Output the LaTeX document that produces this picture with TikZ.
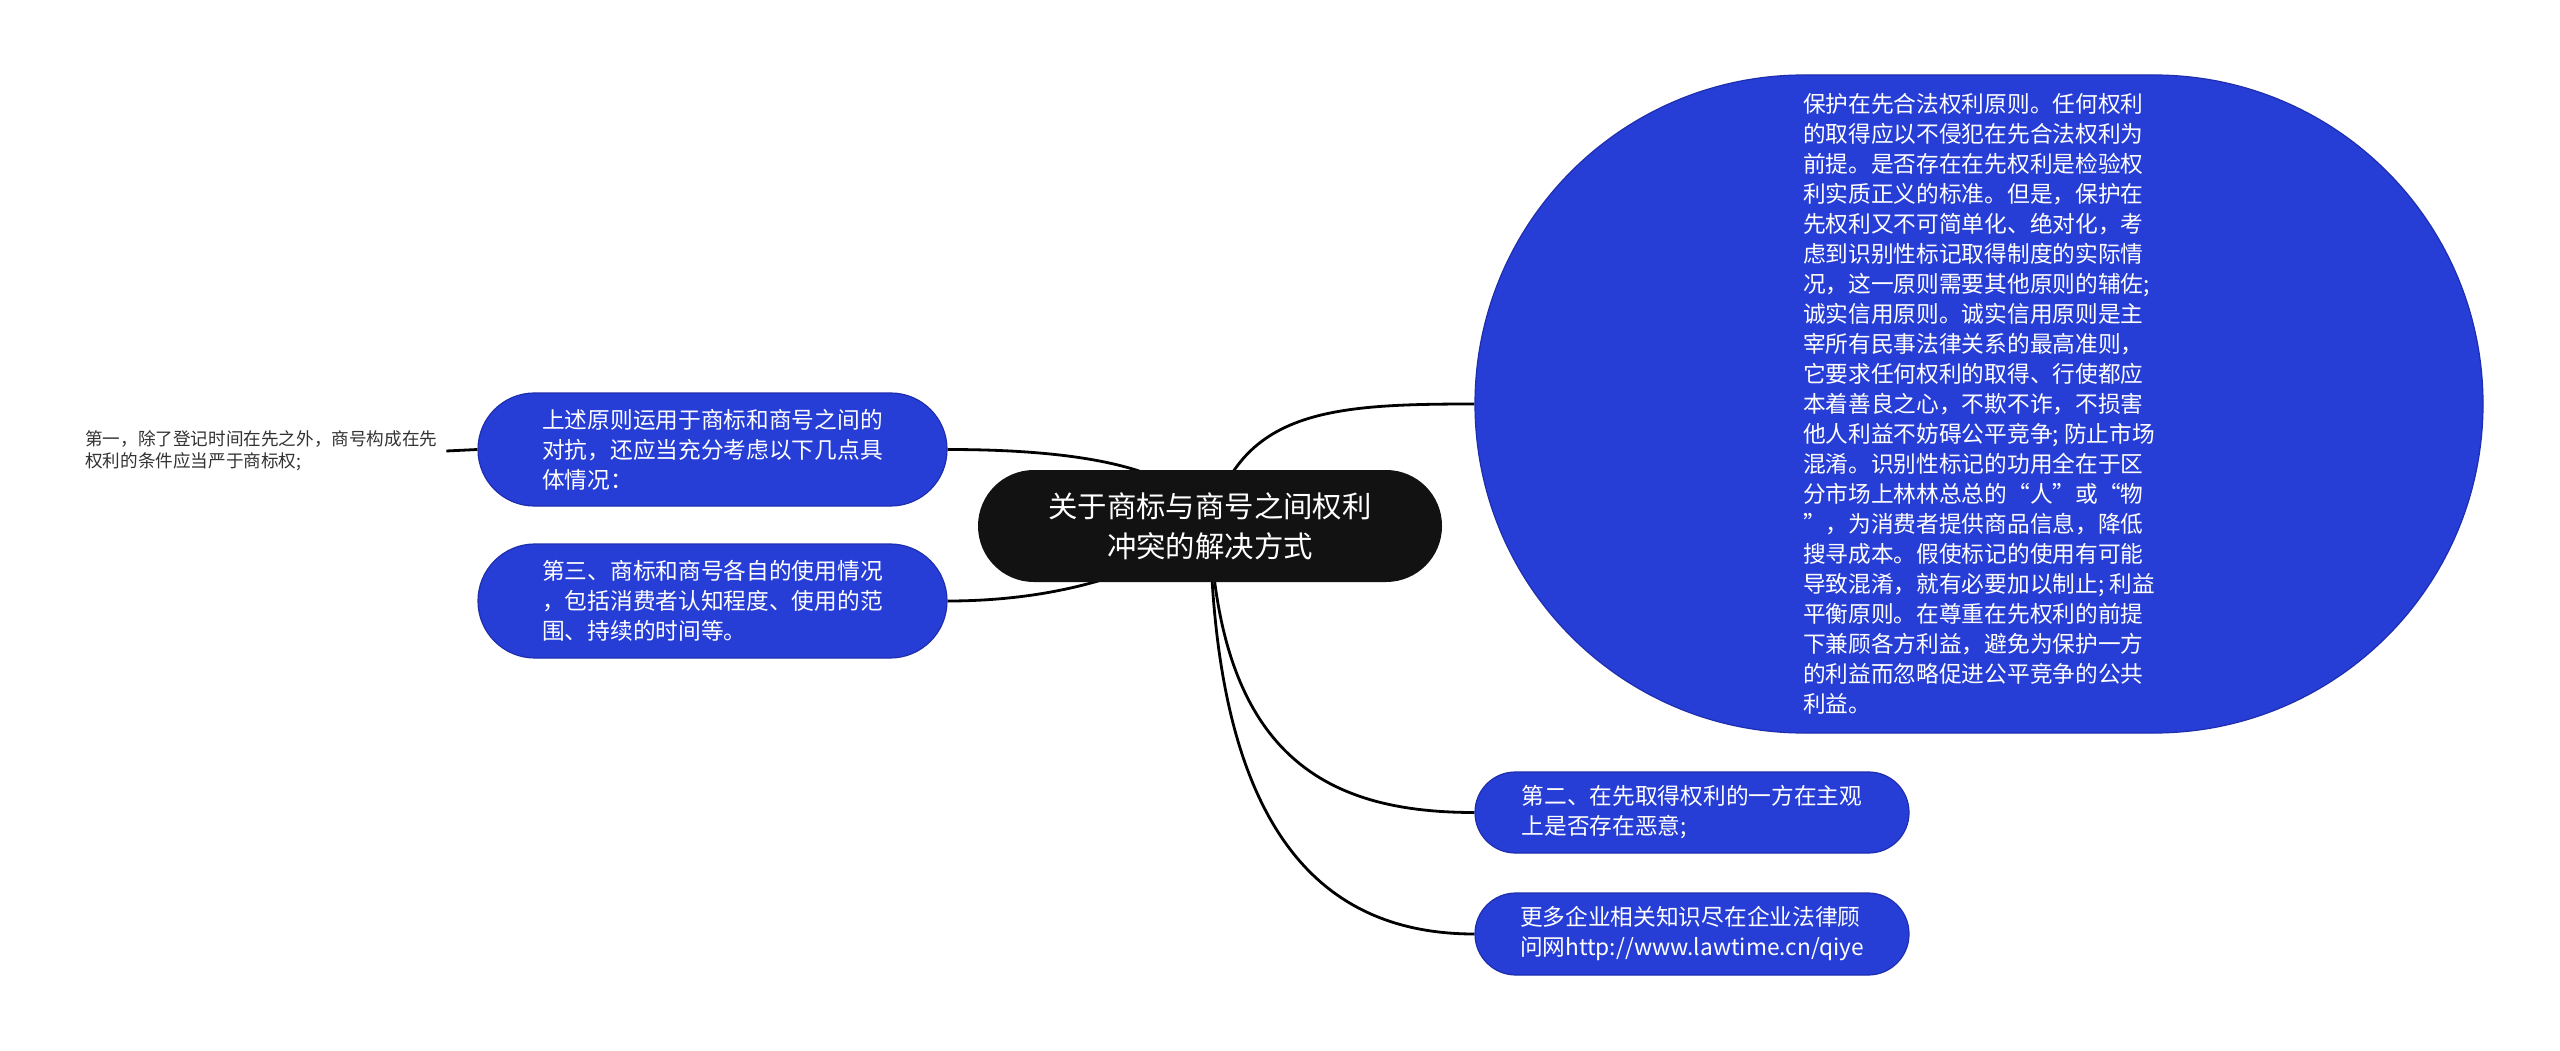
\documentclass[tikz,border=0pt]{standalone}
\usepackage{fontspec}
\setmainfont{Noto Sans CJK SC}
\usetikzlibrary{backgrounds}
\definecolor{nodeblue}{RGB}{38,61,214}
\definecolor{nodeedge}{RGB}{30,46,175}
\definecolor{rootfill}{RGB}{18,18,18}
\definecolor{leaftext}{RGB}{51,51,51}
\begin{document}
\begin{tikzpicture}[x=1pt,y=-1pt,
  bluebox/.style={draw=nodeedge, line width=1.2pt, fill=nodeblue, text=white,
    align=left, inner sep=0pt, font=\fontsize{22.7pt}{30pt}\selectfont},
  rootbox/.style={fill=rootfill, text=white, align=center, inner sep=0pt,
    minimum width=464pt, minimum height=112pt, rounded corners=55.9pt,
    font=\fontsize{29.4pt}{40pt}\selectfont},
  leafnote/.style={text=leaftext, align=left, inner xsep=9pt, inner ysep=0pt,
    font=\fontsize{17.6pt}{22pt}\selectfont},
  link/.style={line width=2.8pt, black}]
\useasboundingbox (0,0) rectangle (2560,1051);

\node[rootbox] (root) at (1210,526) {关于商标与商号之间权利\\冲突的解决方式};

\node[bluebox, minimum width=1008pt, minimum height=658pt, rounded corners=328.9pt]
  (big) at (1979,404) {保护在先合法权利原则。任何权利\\
的取得应以不侵犯在先合法权利为\\
前提。是否存在在先权利是检验权\\
利实质正义的标准。但是，保护在\\
先权利又不可简单化、绝对化，考\\
虑到识别性标记取得制度的实际情\\
况，这一原则需要其他原则的辅佐;\\
诚实信用原则。诚实信用原则是主\\
宰所有民事法律关系的最高准则，\\
它要求任何权利的取得、行使都应\\
本着善良之心，不欺不诈，不损害\\
他人利益不妨碍公平竞争; 防止市场\\
混淆。识别性标记的功用全在于区\\
分市场上林林总总的“人”或“物\\
”，为消费者提供商品信息，降低\\
搜寻成本。假使标记的使用有可能\\
导致混淆，就有必要加以制止; 利益\\
平衡原则。在尊重在先权利的前提\\
下兼顾各方利益，避免为保护一方\\
的利益而忽略促进公平竞争的公共\\
利益。};

\node[bluebox, minimum width=469pt, minimum height=113pt, rounded corners=56.4pt]
  (l1) at (712.5,449.5) {上述原则运用于商标和商号之间的\\对抗，还应当充分考虑以下几点具\\体情况：};
\node[bluebox, minimum width=469pt, minimum height=114pt, rounded corners=56.9pt]
  (l2) at (712.5,601) {第三、商标和商号各自的使用情况\\，包括消费者认知程度、使用的范\\围、持续的时间等。};

\node[bluebox, minimum width=434pt, minimum height=81pt, rounded corners=40.4pt]
  (r1) at (1692,812.5) {第二、在先取得权利的一方在主观\\上是否存在恶意;};
\node[bluebox, minimum width=434pt, minimum height=82pt, rounded corners=40.9pt]
  (r2) at (1692,934) {更多企业相关知识尽在企业法律顾\\问网http://www.lawtime.cn/qiye};

\node[leafnote, anchor=west] (n1) at (76,451) {第一，除了登记时间在先之外，商号构成在先\\权利的条件应当严于商标权;};

\begin{scope}[on background layer]
  \fill[white] (0,0) rectangle (2560,1051);
  \draw[link] (root.center) .. controls (1240,410) and (1330,404) .. (big.west);
  \draw[link] (root.center) .. controls (1220,760) and (1330,812.5) .. (r1.west);
  \draw[link] (root.center) .. controls (1215,830) and (1320,934) .. (r2.west);
  \draw[link] (root.center) .. controls (1190,470) and (1090,449.5) .. (l1.east);
  \draw[link] (root.center) .. controls (1170,560) and (1080,601) .. (l2.east);
  \draw[link] (n1.east) -- (l1.west);
\end{scope}
\end{tikzpicture}
\end{document}
